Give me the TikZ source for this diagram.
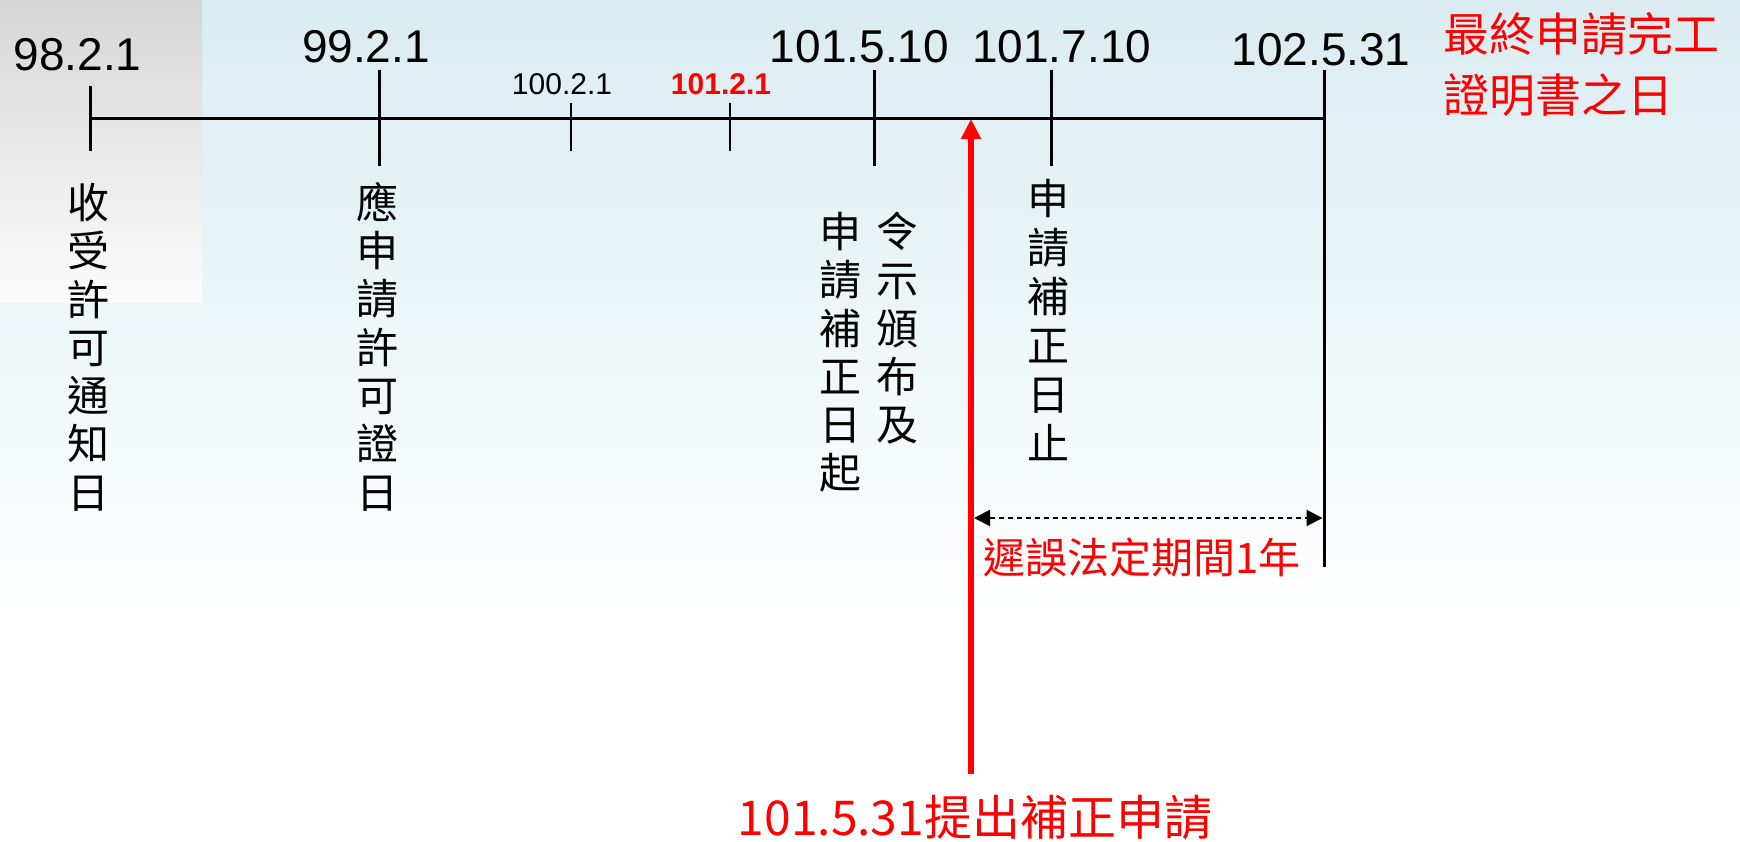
\documentclass[tikz,border=0pt]{standalone}
\usepackage{fontspec}
\setmainfont{Liberation Sans}
\newfontfamily\cjk{Noto Sans CJK TC}
\usetikzlibrary{arrows.meta}
\definecolor{bgtop}{RGB}{218,236,241}
\definecolor{graytop}{RGB}{214,214,214}
\definecolor{graybot}{RGB}{252,252,252}
\definecolor{redc}{RGB}{255,0,0}
\begin{document}
\begin{tikzpicture}[x=1pt,y=-1pt,
  bigdate/.style={font=\fontsize{46}{46}\selectfont, anchor=base, inner sep=0pt},
  smalldate/.style={font=\fontsize{30}{30}\selectfont, anchor=base, inner sep=0pt},
  vtext/.style={font=\cjk\fontsize{42}{48.3}\selectfont, align=center, anchor=north, inner sep=0pt},
  redtext/.style={font=\cjk\fontsize{#1}{#1}\selectfont, text=redc, inner sep=0pt},
  majortick/.style={line width=3pt},
  minortick/.style={line width=1.5pt},
  axis/.style={line width=3.3pt},
  span/.style={line width=2pt, dash pattern=on 5pt off 4pt,
    {Triangle[length=16pt,width=16pt]}-{Triangle[length=16pt,width=16pt]}},
  submit/.style={redc, line width=6pt, -{Triangle[length=20pt,width=19pt]}}
]
% background
\useasboundingbox (0,0) rectangle (1740,842);
\fill[white] (0,0) rectangle (1740,842);
\shade[top color=bgtop, bottom color=white] (0,0) rectangle (1740,620);
\shade[top color=graytop, bottom color=graybot] (0,0) rectangle (202,303);

% coordinates on the axis
\coordinate (a0) at (90,118.5);
\coordinate (aend) at (1324,118.5);

% ticks
\coordinate (t1a) at (90,86);   \coordinate (t1b) at (90,151);
\coordinate (t2a) at (379,70);  \coordinate (t2b) at (379,166);
\coordinate (t3a) at (571,103); \coordinate (t3b) at (571,151);
\coordinate (t4a) at (730,103); \coordinate (t4b) at (730,151);
\coordinate (t5a) at (874,70);  \coordinate (t5b) at (874,166);
\coordinate (t6a) at (1051,70); \coordinate (t6b) at (1051,166);
\coordinate (t7a) at (1324,70); \coordinate (t7b) at (1324,567);

\draw[axis] (a0) -- (aend);
\draw[majortick] (t1a) -- (t1b);
\draw[majortick] (t2a) -- (t2b);
\draw[minortick] (t3a) -- (t3b);
\draw[minortick] (t4a) -- (t4b);
\draw[majortick] (t5a) -- (t5b);
\draw[majortick] (t6a) -- (t6b);
\draw[majortick] (t7a) -- (t7b);

% date labels
\node[bigdate] (d1) at (77.5,71) {98.2.1};
\node[bigdate] (d2) at (366,63) {99.2.1};
\node[smalldate] (d3) at (562,95) {100.2.1};
\node[smalldate, text=redc, font=\bfseries\fontsize{30}{30}\selectfont] (d4) at (721,95) {101.2.1};
\node[bigdate] (d5) at (859.5,63) {101.5.10};
\node[bigdate] (d6) at (1061.7,63) {101.7.10};
\node[bigdate] (d7) at (1321,66) {102.5.31};

% vertical texts
\node[vtext] (v1) at (88.3,183) {收\\受\\許\\可\\通\\知\\日};
\node[vtext] (v2) at (377,182) {應\\申\\請\\許\\可\\證\\日};
\node[vtext] (v3) at (840,212) {申\\請\\補\\正\\日\\起};
\node[vtext] (v4) at (897,212) {令\\示\\頒\\布\\及};
\node[vtext, font=\cjk\fontsize{42}{49}\selectfont] (v5) at (1048,179) {申\\請\\補\\正\\日\\止};

% red texts
\node[redtext=46, anchor=north west, align=left, font=\cjk\fontsize{46}{61}\selectfont] (final) at (1443,12) {最終申請完工\\證明書之日};
\node[redtext=42, anchor=north west] (delay) at (983,538) {遲誤法定期間1年};
\node[redtext=48, anchor=north] (sub) at (975,795) {101.5.31提出補正申請};

% red arrow and span
\coordinate (abot) at (971,774);
\coordinate (atop) at (971,119);
\draw[submit] (abot) -- (atop);
\coordinate (s1) at (974,518);
\coordinate (s2) at (1322.5,518);
\draw[span] (s1) -- (s2);
\end{tikzpicture}
\end{document}
